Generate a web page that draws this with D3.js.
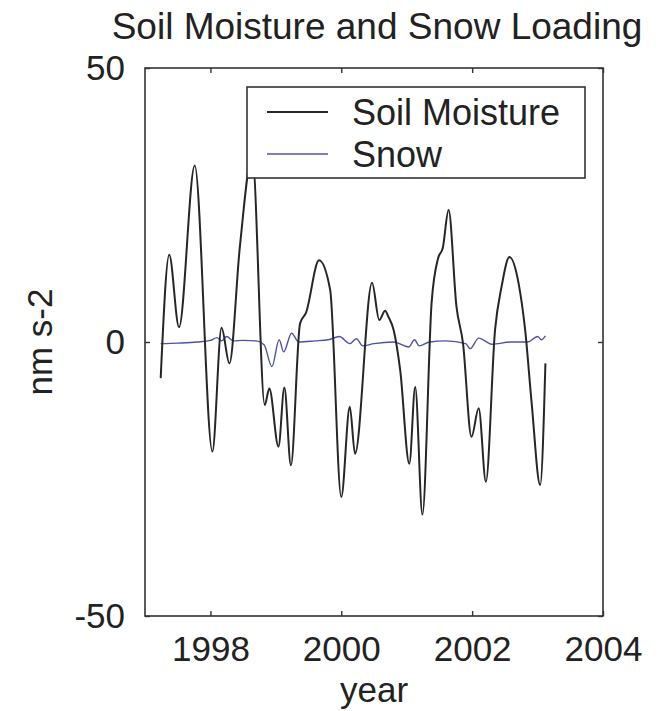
<!DOCTYPE html>
<html>
<head>
<meta charset="utf-8">
<script src="https://cdn.jsdelivr.net/npm/d3@7"></script>
<style>
    body { margin: 0; background: #fff; }
    text { font-family: "Liberation Sans", Arial, sans-serif; fill: #222; }
</style>
</head>
<body>
<div id="container"></div>
<script>
// soil moisture loading, years and values
const soilYears = [1997.24, 1997.37, 1997.52, 1997.76, 1998.03, 1998.17, 1998.29, 1998.45, 1998.64,
    1998.83, 1998.9, 1999.04, 1999.13, 1999.23, 1999.37, 1999.46, 1999.66, 1999.83, 2000.0,
    2000.13, 2000.21, 2000.47, 2000.58, 2000.67, 2000.72, 2000.8, 2000.9, 2001.04, 2001.13,
    2001.24, 2001.38, 2001.48, 2001.55, 2001.64, 2001.76, 2001.86, 2001.99, 2002.1, 2002.21,
    2002.35, 2002.45, 2002.57, 2002.71, 2002.81, 2002.91, 2003.04, 2003.12];
const soilValues = [-6.6, 15.9, 2.7, 32.2, -20, 2.6, -3.9, 17.4, 34,
    -11.5, -8.5, -19.1, -8.3, -22.5, 3.4, 5.3, 14.9, 9.5, -28.3,
    -11.8, -20.4, 10.8, 4, 5.7, 4.6, 2.2, -5.1, -22.2, -8.2,
    -31.5, 7.1, 15.3, 17.1, 24.1, 6.5, -0.2, -17.3, -12.1, -25.5,
    2.2, 10.1, 15.5, 10.7, 2.2, -11.2, -26.1, -3.9];

// snow loading, stays close to zero
const snowYears = [1997.24, 1997.5, 1997.8, 1998.0, 1998.1, 1998.17, 1998.25, 1998.35, 1998.5,
    1998.7, 1998.82, 1998.94, 1999.05, 1999.12, 1999.24, 1999.35, 1999.6, 1999.8, 1999.97,
    2000.13, 2000.23, 2000.33, 2000.5, 2000.8, 2001.03, 2001.12, 2001.19, 2001.35, 2001.6,
    2001.9, 2001.97, 2002.1, 2002.3, 2002.6, 2002.85, 2003.0, 2003.06, 2003.12];
const snowValues = [-0.3, -0.2, 0, 0.3, 0.8, 0.2, 1.0, 0.2, 0.3,
    0.2, -0.5, -4.5, 0.4, -1.8, 1.6, 0, 0.2, 0.4, 1.0,
    -0.3, 0.6, -0.7, -0.3, 0, -0.9, 0.4, -0.7, 0, 0.2,
    -0.3, -1.2, 0.7, -0.4, 0, 0, 1.0, 0.4, 1.1];

const xTicks = [1998, 2000, 2002, 2004];
const yTicks = [-50, 0, 50];
const seriesNames = ["Soil Moisture", "Snow"];
const seriesColors = ["#262626", "#5050a8"];

const width = 660;
const height = 711;
const plotLeft = 145, plotRight = 603, plotTop = 68, plotBottom = 616;

const xScale = d3.scaleLinear().domain([1997, 2004]).range([plotLeft, plotRight]);
const yScale = d3.scaleLinear().domain([-50, 50]).range([plotBottom, plotTop]);

const svg = d3.select("#container")
    .append("svg")
    .attr("width", width)
    .attr("height", height);

//title
svg.append("text")
    .attr("x", (plotLeft + plotRight) / 2 + 3)
    .attr("y", 39)
    .attr("text-anchor", "middle")
    .attr("font-size", 37)
    .text("Soil Moisture and Snow Loading");

//the data lines, drawn first so the legend covers them
const line = d3.line()
    .x(d => xScale(d[0]))
    .y(d => yScale(d[1]))
    .curve(d3.curveMonotoneX);

svg.append("path")
    .datum(snowYears.map((y, i) => [y, snowValues[i]]))
    .attr("d", line)
    .attr("fill", "none")
    .attr("stroke", seriesColors[1])
    .attr("stroke-width", 1.4);

svg.append("path")
    .datum(soilYears.map((y, i) => [y, soilValues[i]]))
    .attr("d", line)
    .attr("fill", "none")
    .attr("stroke", seriesColors[0])
    .attr("stroke-width", 2);

//box around the axes
svg.append("rect")
    .attr("x", plotLeft)
    .attr("y", plotTop)
    .attr("width", plotRight - plotLeft)
    .attr("height", plotBottom - plotTop)
    .attr("fill", "none")
    .attr("stroke", "#333")
    .attr("stroke-width", 1.6);

//plain hyphen for negatives, like the original
const plainFormat = d => String(d);

//axes with inward ticks, labels drawn by d3
svg.append("g")
    .attr("transform", `translate(0,${plotBottom})`)
    .call(d3.axisBottom(xScale).tickValues(xTicks).tickFormat(plainFormat)
        .tickSizeInner(-5).tickSizeOuter(0).tickPadding(20))
    .call(g => g.select(".domain").remove())
    .call(g => g.selectAll("line").attr("stroke", "#333").attr("stroke-width", 1.4))
    .call(g => g.selectAll("text").attr("font-size", 35).attr("fill", "#222")
        .attr("font-family", "Liberation Sans, Arial, sans-serif"));

svg.append("g")
    .attr("transform", `translate(0,${plotTop})`)
    .call(d3.axisTop(xScale).tickValues(xTicks).tickSizeInner(-5).tickSizeOuter(0).tickFormat(""))
    .call(g => g.select(".domain").remove())
    .call(g => g.selectAll("line").attr("stroke", "#333").attr("stroke-width", 1.4));

svg.append("g")
    .attr("transform", `translate(${plotLeft},0)`)
    .call(d3.axisLeft(yScale).tickValues(yTicks).tickFormat(plainFormat)
        .tickSizeInner(-5).tickSizeOuter(0).tickPadding(20))
    .call(g => g.select(".domain").remove())
    .call(g => g.selectAll("line").attr("stroke", "#333").attr("stroke-width", 1.4))
    .call(g => g.selectAll("text").attr("font-size", 35).attr("fill", "#222")
        .attr("font-family", "Liberation Sans, Arial, sans-serif"));

svg.append("g")
    .attr("transform", `translate(${plotRight},0)`)
    .call(d3.axisRight(yScale).tickValues(yTicks).tickSizeInner(-5).tickSizeOuter(0).tickFormat(""))
    .call(g => g.select(".domain").remove())
    .call(g => g.selectAll("line").attr("stroke", "#333").attr("stroke-width", 1.4));

//axis labels
svg.append("text")
    .attr("x", (plotLeft + plotRight) / 2)
    .attr("y", 702)
    .attr("text-anchor", "middle")
    .attr("font-size", 35)
    .text("year");

svg.append("text")
    .attr("transform", `translate(52,${yScale(0)}) rotate(-90)`)
    .attr("text-anchor", "middle")
    .attr("font-size", 35)
    .text("nm s-2");

//legend box in the upper right
const legend = svg.append("g");
legend.append("rect")
    .attr("x", 247)
    .attr("y", 87)
    .attr("width", 338)
    .attr("height", 91)
    .attr("fill", "#fff")
    .attr("stroke", "#333")
    .attr("stroke-width", 1.6);

seriesNames.forEach((name, i) => {
    const ly = 112 + i * 42;
    legend.append("line")
        .attr("x1", 267)
        .attr("x2", 328)
        .attr("y1", ly)
        .attr("y2", ly)
        .attr("stroke", seriesColors[i])
        .attr("stroke-width", i == 0 ? 2 : 1.4);
    legend.append("text")
        .attr("x", 352)
        .attr("y", ly)
        .attr("dy", "0.35em")
        .attr("font-size", 36)
        .text(name);
});
</script>
</body>
</html>
